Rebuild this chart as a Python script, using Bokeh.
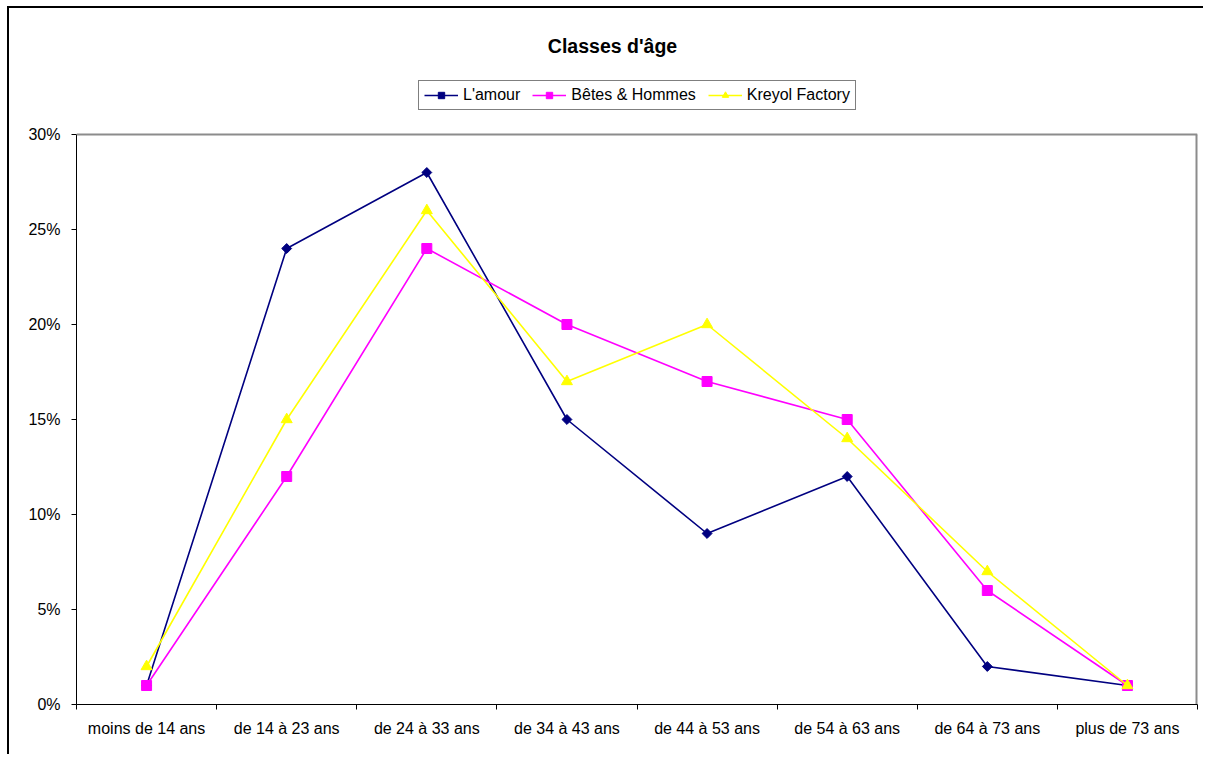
from bokeh.plotting import figure
from bokeh.models import (Range1d, FixedTicker, Legend, LegendItem, LinearAxis, Label, Span)
from bokeh.embed import file_html
from bokeh.resources import INLINE
import math

categories = ["moins de 14 ans", "de 14 à 23 ans", "de 24 à 33 ans", "de 34 à 43 ans",
              "de 44 à 53 ans", "de 54 à 63 ans", "de 64 à 73 ans", "plus de 73 ans"]
lamour = [1, 24, 28, 15, 9, 12, 2, 1]
betes = [1, 12, 24, 20, 17, 15, 6, 1]
kreyol = [2, 15, 26, 17, 20, 14, 7, 1]
y_ticks = [0, 5, 10, 15, 20, 25, 30]
y_tick_labels = ["0%", "5%", "10%", "15%", "20%", "25%", "30%"]
title_text = "Classes d'âge"

FONT = "Liberation Sans"
n = len(categories)
xs = [i + 0.5 for i in range(n)]
y_max = y_ticks[-1]

# layout geometry (pixels)
PLOT_H = 570      # height of the plot area (0 .. 30 %)
EXTRA_H = 126     # space above the plot area, inside the frame (title + legend)
FRAME_W = 1121
px_per_unit = PLOT_H / y_max
y_top = y_max + EXTRA_H / px_per_unit

p = figure(width=1196, height=748, output_backend="svg", toolbar_location=None,
           x_range=Range1d(0, n), y_range=Range1d(0, y_top),
           min_border_left=67, min_border_right=8, min_border_top=0, min_border_bottom=52,
           x_axis_type=None, y_axis_type=None)
p.styles = {"border-left": "2px solid black", "border-top": "2px solid black",
            "margin-left": "7px", "margin-top": "6px"}
p.background_fill_color = "white"
p.border_fill_color = "white"
p.outline_line_color = None

# x axis
xa = LinearAxis(ticker=FixedTicker(ticks=xs, minor_ticks=list(range(n + 1))))
xa.major_label_overrides = {x: c for x, c in zip(xs, categories)}
xa.major_tick_out = 0
xa.major_tick_in = 0
xa.minor_tick_out = 5
xa.minor_tick_in = 0
xa.minor_tick_line_color = "black"
xa.axis_line_color = "black"
xa.major_label_standoff = 10
xa.major_label_text_font = FONT
xa.major_label_text_font_size = "16px"
xa.major_label_text_color = "black"
p.add_layout(xa, "below")

# y axis
ya = LinearAxis(ticker=FixedTicker(ticks=y_ticks, minor_ticks=[]), bounds=(0, y_max))
ya.major_label_overrides = {t: l for t, l in zip(y_ticks, y_tick_labels)}
ya.major_tick_out = 5
ya.major_tick_in = 0
ya.major_tick_line_color = "black"
ya.axis_line_color = "black"
ya.major_label_standoff = 11
ya.major_label_text_font = FONT
ya.major_label_text_font_size = "16px"
ya.major_label_text_color = "black"
p.add_layout(ya, "left")

p.xgrid.visible = False
p.ygrid.ticker = FixedTicker(ticks=y_ticks[1:-1])
p.ygrid.grid_line_color = "black"
p.ygrid.grid_line_width = 1

# plot-area border (grey top and right edges)
p.add_layout(Span(location=y_max, dimension="width", line_color="#8c8c8c", line_width=2))
p.segment(x0=[n], y0=[0], x1=[n], y1=[y_max], line_color="#8c8c8c", line_width=4)

series = [
    ("L'amour", lamour, "#000080", "square", 7, math.pi / 4),
    ("Bêtes & Hommes", betes, "#FF00FF", "square", 10, 0.0),
    ("Kreyol Factory", kreyol, "#FFFF00", "triangle", 11, 0.0),
]
items = []
for name, vals, color, marker, size, ang in series:
    l = p.line(xs, vals, line_color=color, line_width=1.6)
    s = p.scatter(xs, vals, marker=marker, size=size, angle=ang,
                  fill_color=color, line_color=color)
    items.append(LegendItem(label=name, renderers=[l, s]))

# legend: left edge 342 px right of plot-area left, bottom 24 px above plot-area top
legend = Legend(items=items, orientation="horizontal", location=(342, PLOT_H + 24),
                label_text_font=FONT, label_text_font_size="16px", label_text_color="black",
                glyph_width=34, glyph_height=16, label_standoff=5, spacing=12,
                padding=5, margin=0, border_line_color="black", border_line_width=1,
                background_fill_color="white", label_height=16)
p.add_layout(legend, "center")

# title, centred at 536 px right of plot-area left, 89 px above plot-area top
title = Label(x=n * 536 / FRAME_W, y=y_max + 89 / px_per_unit, text=title_text,
              text_font=FONT, text_font_size="19.5px", text_font_style="bold",
              text_align="center", text_baseline="middle", text_color="black")
p.add_layout(title)

open("out.html", "w").write(file_html(p, INLINE))
